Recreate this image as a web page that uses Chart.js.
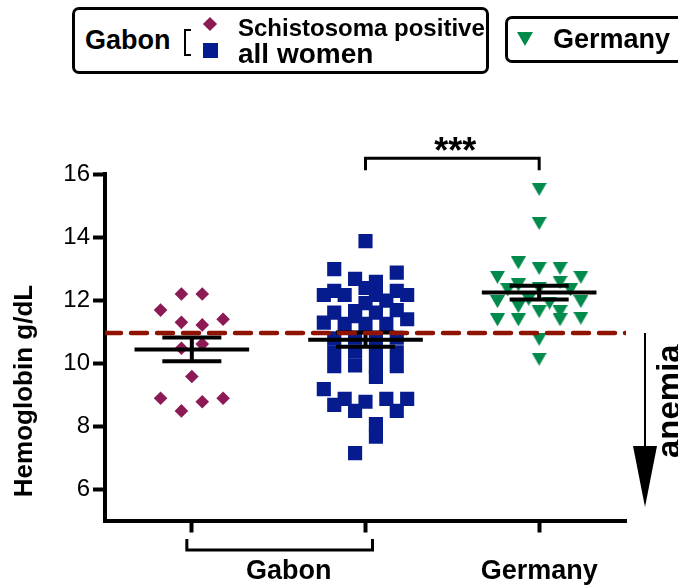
<!DOCTYPE html>
<html>
<head>
<meta charset="utf-8">
<title>Hemoglobin</title>
<script src="https://cdn.jsdelivr.net/npm/chart.js@4.4.0/dist/chart.umd.min.js"></script>
<style>
body { margin: 0; background: #fff; font-family: 'Liberation Sans', Arial, sans-serif; }
#wrap { position: relative; width: 678px; height: 587px; overflow: hidden; }
#myChart { position: absolute; left: 0; top: 0; }
.box { position: absolute; border: 3px solid #000; border-radius: 7px; box-sizing: border-box; background: #fff; }
.lbl { position: absolute; font-weight: bold; color: #000; line-height: 1; white-space: nowrap; }
</style>
</head>
<body>
<div id="wrap">
  <canvas id="myChart" width="678" height="587"></canvas>

  <!-- legend -->
  <div class="box" style="left:72px;top:7px;width:417px;height:67px"></div>
  <div class="lbl" style="left:85px;top:27px;font-size:27px">Gabon</div>
  <div style="position:absolute;left:184px;top:29px;width:5px;height:23px;border:2px solid #000;border-right:none"></div>
  <div style="position:absolute;left:205px;top:19px;width:10px;height:10px;background:#8b1a55;transform:rotate(45deg)"></div>
  <div style="position:absolute;left:203px;top:43px;width:15px;height:15px;background:#061c8e"></div>
  <div class="lbl" id="leg1" style="left:238px;top:16px;font-size:24px"></div>
  <div class="lbl" id="leg2" style="left:238px;top:40px;font-size:28px"></div>

  <div class="box" style="left:505px;top:16px;width:190px;height:47px"></div>
  <div style="position:absolute;left:517px;top:32px;width:0;height:0;border-left:8px solid transparent;border-right:8px solid transparent;border-top:14px solid #008a4b"></div>
  <div class="lbl" id="leg3" style="left:553px;top:26px;font-size:27px"></div>
</div>

<script>
// categories on the x axis
var groupNames = ['Gabon', 'Germany'];
var legendNames = ['Schistosoma positive', 'all women', 'Germany'];
var yTicks = [6, 8, 10, 12, 14, 16];
var anemiaCutoff = 10.95;

// hemoglobin g/dL, Gabon, Schistosoma positive
var schistoHb = [12.19, 12.19, 11.68, 11.29, 11.21, 11.39, 10.47, 10.60, 9.57, 8.88, 8.77, 8.88, 8.48];
var schistoSlot = [-1, 1, -3, -1, 1, 3, -1, 1, 0, -3, 1, 3, -1];

// hemoglobin g/dL, Gabon, all women
var womenHb = [13.87, 12.98, 12.87, 12.67, 12.58, 12.29, 12.16, 12.16, 12.38, 12.16, 12.29, 12.16,
  11.98, 11.90, 11.60, 11.65, 11.60, 11.68, 11.49, 11.28, 11.24, 11.24, 11.24, 11.39,
  10.78, 10.80, 10.76, 10.80, 10.34, 10.36, 10.32, 10.34, 9.90, 9.92, 9.88, 9.90,
  9.56, 9.17, 8.86, 8.67, 8.77, 8.48, 8.86, 8.86, 8.48, 8.06, 7.66, 7.14];
var womenSlot = [0, -3, 3, -1, 1, -3, -4, -2, 0, 1, 3, 4,
  2, 0, -3, -1, 1, 3, -1, -4, -2, 0, 2, 4,
  -3, -1, 1, 3, -3, -1, 1, 3, -3, -1, 1, 3,
  1, -4, -2, -3, 0, -1, 2, 4, 3, 1, 1, -1];

// hemoglobin g/dL, Germany
var germanyHb = [15.51, 14.43, 13.18, 13.00, 13.00, 12.72, 12.72, 12.56, 12.48, 12.37, 12.32, 12.32,
  11.95, 12.02, 11.90, 11.95, 11.79, 11.63, 11.63, 11.37, 11.37, 11.37, 11.42, 10.75, 10.12];
var germanySlot = [0, 0, -2, 0, 2, -4, 4, 2, -2, 0, -3, 3,
  -4, -1, 1, 4, -2, 0, 2, -4, -2, 2, 4, 0, 0];

document.getElementById('leg1').textContent = legendNames[0];
document.getElementById('leg2').textContent = legendNames[1];
document.getElementById('leg3').textContent = legendNames[2];

var STEP = 0.06;
var FONT = "'Liberation Sans', Arial, sans-serif";

function toPoints(vals, slots, center) {
  return vals.map(function(v, i) { return { x: center + slots[i] * STEP, y: v }; });
}

// mean +- SEM as broken line
function meanSem(vals, center) {
  var n = vals.length;
  var m = vals.reduce(function(a, b) { return a + b; }, 0) / n;
  var ss = vals.reduce(function(a, b) { return a + (b - m) * (b - m); }, 0);
  var sem = Math.sqrt(ss / (n - 1)) / Math.sqrt(n);
  var gap = { x: NaN, y: NaN };
  return [
    { x: center - 0.33, y: m }, { x: center + 0.33, y: m }, gap,
    { x: center - 0.17, y: m + sem }, { x: center + 0.17, y: m + sem }, gap,
    { x: center - 0.17, y: m - sem }, { x: center + 0.17, y: m - sem }, gap,
    { x: center, y: m + sem }, { x: center, y: m - sem }
  ];
}

// down triangle marker
var tri = document.createElement('canvas');
tri.width = 15; tri.height = 13;
var tctx = tri.getContext('2d');
tctx.fillStyle = '#008a4b';
tctx.beginPath();
tctx.moveTo(0, 0); tctx.lineTo(15, 0); tctx.lineTo(7.5, 13);
tctx.closePath();
tctx.fill();

function barSet(data) {
  return { data: data, showLine: true, borderColor: '#000', borderWidth: 4, pointRadius: 0,
    spanGaps: false, tension: 0, borderCapStyle: 'butt' };
}

var extras = {
  id: 'extras',
  afterDraw: function(chart) {
    var ctx = chart.ctx;
    var xs = chart.scales.x, ys = chart.scales.y;
    ctx.save();
    ctx.strokeStyle = '#000';
    ctx.fillStyle = '#000';

    // significance bracket
    var bx1 = xs.getPixelForValue(2), bx2 = xs.getPixelForValue(3);
    var by = ys.getPixelForValue(16.5);
    ctx.lineWidth = 3;
    ctx.beginPath();
    ctx.moveTo(bx1, by + 12); ctx.lineTo(bx1, by); ctx.lineTo(bx2, by); ctx.lineTo(bx2, by + 12);
    ctx.stroke();
    ctx.font = 'bold 36px ' + FONT;
    ctx.textAlign = 'center';
    ctx.textBaseline = 'alphabetic';
    ctx.fillText('***', (bx1 + bx2) / 2 + 3, by + 5);

    // Gabon bracket under the axis
    var gx1 = xs.getPixelForValue(1) - 5, gx2 = xs.getPixelForValue(2) + 7;
    ctx.beginPath();
    ctx.moveTo(gx1, 539); ctx.lineTo(gx1, 550); ctx.lineTo(gx2, 550); ctx.lineTo(gx2, 539);
    ctx.stroke();

    // category labels
    ctx.font = 'bold 27px ' + FONT;
    ctx.textBaseline = 'middle';
    ctx.fillText(groupNames[0], xs.getPixelForValue(1.5) + 10, 572);
    ctx.fillText(groupNames[1], xs.getPixelForValue(3), 572);

    // y title
    ctx.save();
    ctx.translate(25, 391);
    ctx.rotate(-Math.PI / 2);
    ctx.font = 'bold 26px ' + FONT;
    ctx.fillText('Hemoglobin g/dL', 0, 0);
    ctx.restore();

    // anemia arrow
    var ay = ys.getPixelForValue(anemiaCutoff);
    ctx.lineWidth = 2;
    ctx.beginPath();
    ctx.moveTo(645, ay); ctx.lineTo(645, 450);
    ctx.stroke();
    ctx.beginPath();
    ctx.moveTo(633, 446); ctx.lineTo(657, 446); ctx.lineTo(645, 507);
    ctx.closePath();
    ctx.fill();

    ctx.save();
    ctx.translate(657, 458);
    ctx.rotate(-Math.PI / 2);
    ctx.font = 'bold 33px ' + FONT;
    ctx.textAlign = 'left';
    ctx.textBaseline = 'top';
    ctx.fillText('anemia', 0, -3);
    ctx.restore();

    ctx.restore();
  }
};

var ctx = document.getElementById('myChart').getContext('2d');
var chart = new Chart(ctx, {
  type: 'scatter',
  data: {
    datasets: [
      { data: [{ x: 0.5, y: anemiaCutoff }, { x: 3.5, y: anemiaCutoff }], showLine: true,
        borderColor: '#8e1300', borderWidth: 4.5, borderDash: [16, 10], borderCapStyle: 'round', pointRadius: 0 },
      barSet(meanSem(schistoHb, 1)),
      barSet(meanSem(womenHb, 2)),
      barSet(meanSem(germanyHb, 3)),
      { label: legendNames[0], data: toPoints(schistoHb, schistoSlot, 1), pointStyle: 'rectRot',
        pointRadius: 6.8, backgroundColor: '#8b1a55', borderWidth: 0 },
      { label: legendNames[1], data: toPoints(womenHb, womenSlot, 2), pointStyle: 'rect',
        pointRadius: 10, backgroundColor: '#061c8e', borderWidth: 0 },
      { label: legendNames[2], data: toPoints(germanyHb, germanySlot, 3), pointStyle: tri,
        pointRadius: 7, backgroundColor: '#008a4b', borderWidth: 0 }
    ]
  },
  options: {
    responsive: false,
    animation: false,
    events: [],
    layout: { padding: { top: 174, right: 52, left: 0, bottom: 0 } },
    plugins: { legend: { display: false }, tooltip: { enabled: false } },
    scales: {
      x: {
        type: 'linear', min: 0.5, max: 3.5,
        afterBuildTicks: function(s) { s.ticks = [1, 2, 3].map(function(v) { return { value: v }; }); },
        afterFit: function(s) { s.height = 66.5; },
        ticks: { display: false },
        grid: { drawOnChartArea: false, color: '#000', tickLength: 12, tickWidth: 4 },
        border: { color: '#000', width: 4 }
      },
      y: {
        min: 5, max: 16,
        afterBuildTicks: function(s) { s.ticks = yTicks.map(function(v) { return { value: v }; }); },
        afterFit: function(s) { s.width = 105; },
        ticks: { color: '#000', padding: 3, font: { family: FONT, size: 24 } },
        grid: { drawOnChartArea: false, color: '#000', tickLength: 12, tickWidth: 4 },
        border: { color: '#000', width: 4 }
      }
    }
  },
  plugins: [extras]
});
</script>
</body>
</html>
